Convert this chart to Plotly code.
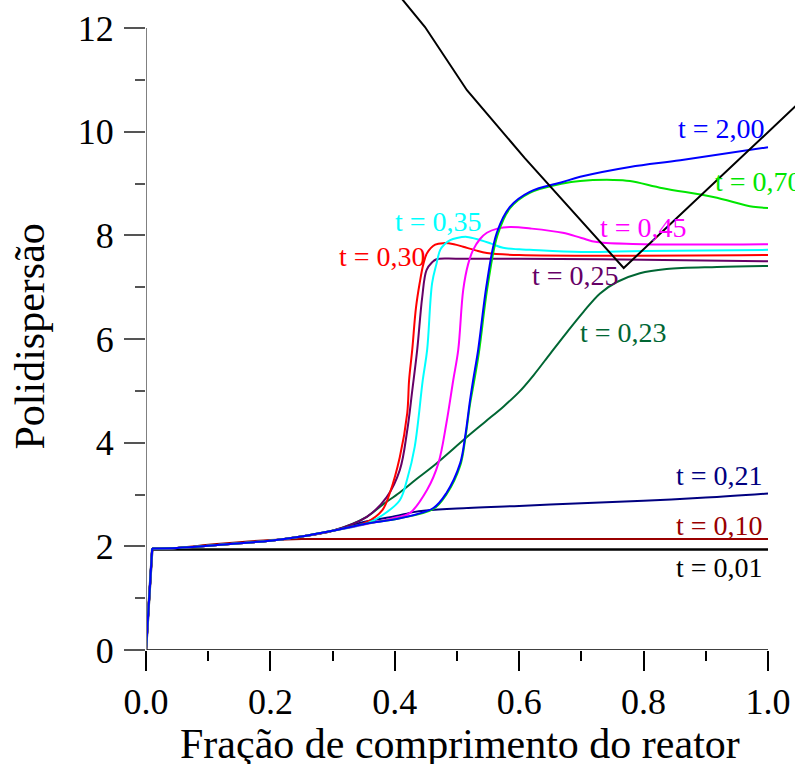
import plotly.graph_objects as go

# ---- data ----
x_t001 = [0, 0.01, 1.0]
y_t001 = [0, 1.94, 1.94]

x_t010 = [0, 0.01, 0.05, 0.1, 0.15, 0.2, 0.25, 0.3, 1.0]
y_t010 = [0, 1.95, 1.97, 2.03, 2.08, 2.12, 2.14, 2.14, 2.14]

x_t021 = [0, 0.01, 0.05, 0.1, 0.15, 0.2, 0.25, 0.3, 0.35, 0.4, 0.43, 0.45, 0.5, 0.6, 0.7, 0.8, 0.9, 1.0]
y_t021 = [0, 1.96, 1.97, 2.01, 2.06, 2.11, 2.19, 2.3, 2.47, 2.58, 2.66, 2.69, 2.73, 2.78, 2.83, 2.88, 2.94, 3.02]

x_t023 = [0, 0.01, 0.05, 0.1, 0.15, 0.2, 0.25, 0.3, 0.355, 0.38, 0.408, 0.435, 0.462, 0.515, 0.545, 0.575,
          0.6, 0.623, 0.65, 0.676, 0.703, 0.73, 0.757, 0.794, 0.837, 0.918, 1.0]
y_t023 = [0, 1.96, 1.97, 2.01, 2.06, 2.11, 2.19, 2.3, 2.57, 2.8, 3.04, 3.3, 3.55, 4.1, 4.4, 4.7,
          4.98, 5.3, 5.72, 6.12, 6.52, 6.88, 7.1, 7.27, 7.35, 7.39, 7.41]

x_t025 = [0, 0.01, 0.05, 0.1, 0.15, 0.2, 0.25, 0.3, 0.355, 0.387, 0.408, 0.42, 0.428, 0.436, 0.444, 0.451, 0.46,
          0.467, 0.5, 0.6, 0.8, 1.0]
y_t025 = [0, 1.96, 1.97, 2.01, 2.06, 2.11, 2.19, 2.3, 2.57, 2.95, 3.47, 4.24, 5.0, 5.79, 6.8, 7.33, 7.48,
          7.54, 7.55, 7.55, 7.53, 7.50]

x_t030 = [0, 0.01, 0.05, 0.1, 0.15, 0.2, 0.25, 0.3, 0.355, 0.38, 0.392, 0.408, 0.42, 0.423, 0.428, 0.434, 0.44,
          0.446, 0.452, 0.465, 0.478, 0.495, 0.51, 0.53, 0.548, 0.6, 1.0]
y_t030 = [0, 1.96, 1.97, 2.01, 2.06, 2.11, 2.19, 2.3, 2.47, 2.7, 3.03, 3.72, 4.57, 5.21, 5.79, 6.6, 7.08,
          7.45, 7.66, 7.82, 7.85, 7.83, 7.78, 7.71, 7.66, 7.62, 7.62]

x_t035 = [0, 0.01, 0.05, 0.1, 0.15, 0.2, 0.25, 0.3, 0.355, 0.38, 0.408, 0.42, 0.432, 0.445, 0.452, 0.46,
          0.467, 0.473, 0.48, 0.489, 0.5, 0.516, 0.537, 0.555, 0.574, 0.6, 0.617, 0.7, 0.8, 1.0]
y_t035 = [0, 1.96, 1.97, 2.01, 2.06, 2.11, 2.19, 2.3, 2.44, 2.6, 2.89, 3.3, 3.92, 5.21, 5.79, 7.08,
          7.45, 7.72, 7.83, 7.91, 7.95, 7.97, 7.91, 7.84, 7.76, 7.73, 7.72, 7.68, 7.70, 7.72]

x_t045 = [0, 0.01, 0.05, 0.1, 0.15, 0.2, 0.25, 0.3, 0.355, 0.4, 0.424, 0.452, 0.47, 0.483, 0.494, 0.502,
          0.51, 0.518, 0.526, 0.537, 0.548, 0.565, 0.585, 0.62, 0.67, 0.7, 0.725, 0.8, 1.0]
y_t045 = [0, 1.96, 1.97, 2.01, 2.06, 2.11, 2.19, 2.3, 2.43, 2.55, 2.64, 3.09, 3.6, 4.38, 5.21, 5.79,
          6.95, 7.45, 7.72, 7.93, 8.05, 8.13, 8.16, 8.13, 8.05, 7.95, 7.87, 7.83, 7.83]

x_t070 = [0, 0.01, 0.05, 0.1, 0.15, 0.2, 0.25, 0.3, 0.355, 0.408, 0.462, 0.483, 0.505, 0.513, 0.521, 0.527,
          0.535, 0.549, 0.565, 0.585, 0.617, 0.67, 0.698, 0.751, 0.778, 0.831, 0.912, 0.976, 1.0]
y_t070 = [0, 1.96, 1.97, 2.01, 2.06, 2.11, 2.19, 2.3, 2.44, 2.54, 2.72, 3.0, 3.55, 4.05, 4.75, 5.15,
          5.72, 7.0, 8.0, 8.52, 8.82, 9.0, 9.05, 9.07, 9.05, 8.91, 8.74, 8.55, 8.53]

x_t200 = [0, 0.01, 0.05, 0.1, 0.15, 0.2, 0.25, 0.3, 0.355, 0.408, 0.462, 0.483, 0.505, 0.513, 0.521, 0.526,
          0.534, 0.548, 0.564, 0.585, 0.617, 0.67, 0.698, 0.778, 0.859, 1.0]
y_t200 = [0, 1.96, 1.97, 2.01, 2.06, 2.11, 2.19, 2.3, 2.44, 2.54, 2.74, 3.03, 3.6, 4.11, 4.82, 5.21,
          5.79, 7.08, 8.05, 8.55, 8.84, 9.03, 9.13, 9.32, 9.45, 9.7]

x_vline = [0.38, 0.413, 0.4486, 0.516, 0.609, 0.768, 1.06]
y_vline = [13.02, 12.54, 12.02, 10.80, 9.49, 7.37, 10.67]

series_names = ["t = 0,01", "t = 0,10", "t = 0,21", "t = 0,23", "t = 0,25", "t = 0,30",
                "t = 0,35", "t = 0,45", "t = 0,70", "t = 2,00"]
series_x = [x_t001, x_t010, x_t021, x_t023, x_t025, x_t030, x_t035, x_t045, x_t070, x_t200]
series_y = [y_t001, y_t010, y_t021, y_t023, y_t025, y_t030, y_t035, y_t045, y_t070, y_t200]
series_colors = ["#000000", "#990000", "#000080", "#006633", "#660066", "#ff0000",
                 "#00ffff", "#ff00ff", "#00e600", "#0000ff"]
series_widths = [2.5, 2, 2, 2, 2, 2, 2, 2, 2, 2]

# label positions (x, y, anchor) for each series label
label_x = [0.995, 0.995, 0.995, 0.695, 0.617, 0.307, 0.397, 0.727, 0.912, 0.998]
label_y = [1.60, 2.41, 3.36, 6.12, 7.22, 7.60, 8.26, 8.16, 9.03, 10.07]
label_anchor = ["right", "right", "right", "left", "left", "left", "left", "left", "left", "right"]

x_tickvals = [0, 0.2, 0.4, 0.6, 0.8, 1.0]
x_ticktext = ["0.0", "0.2", "0.4", "0.6", "0.8", "1.0"]
y_tickvals = [0, 2, 4, 6, 8, 10, 12]

FONT = "Liberation Serif"

fig = go.Figure()
for nm, xs, ys, col, w in zip(series_names, series_x, series_y, series_colors, series_widths):
    # initial jump at the reactor inlet (straight)
    fig.add_trace(go.Scatter(x=xs[:2], y=ys[:2], mode="lines", name=nm, showlegend=False,
                             line=dict(color=col, width=w)))
    # smooth profile along the reactor
    fig.add_trace(go.Scatter(x=xs[1:], y=ys[1:], mode="lines", name=nm,
                             line=dict(color=col, width=w, shape="spline", smoothing=1.0)))
fig.add_trace(go.Scatter(x=x_vline, y=y_vline, mode="lines", name="linha",
                         line=dict(color="#000000", width=2)))

for nm, lx, ly, an, col in zip(series_names, label_x, label_y, label_anchor, series_colors):
    fig.add_annotation(x=lx, y=ly, xref="x", yref="y", text=nm, showarrow=False,
                       xanchor=an, yanchor="middle",
                       font=dict(family=FONT, size=28, color=col))

# axis titles
fig.add_annotation(x=0.505, y=-0.144, xref="x", yref="paper",
                   text="Fração de comprimento do reator", showarrow=False,
                   xanchor="center", yanchor="middle",
                   font=dict(family=FONT, size=42, color="#000000"))
fig.add_annotation(x=-0.178, y=0.483, xref="paper", yref="paper",
                   text="Polidispersão", showarrow=False, textangle=-90,
                   xanchor="center", yanchor="middle",
                   font=dict(family=FONT, size=42, color="#000000"))

# axis lines (ending at the last tick)
fig.add_shape(type="line", x0=0, x1=1.0, y0=0, y1=0, xref="x", yref="y",
              line=dict(color="#000000", width=1.5), layer="above")
fig.add_shape(type="line", x0=0, x1=0, y0=0, y1=12, xref="x", yref="y",
              line=dict(color="#808080", width=2), layer="above")

fig.update_layout(
    width=795, height=764,
    margin=dict(l=146, r=0, t=0, b=114),
    paper_bgcolor="white", plot_bgcolor="white",
    showlegend=False,
    xaxis=dict(range=[0, 649 / 622], tickvals=x_tickvals, ticktext=x_ticktext,
               ticks="outside", ticklen=20, tickwidth=1.5, tickcolor="#000000",
               showgrid=False, zeroline=False, showline=False,
               tickfont=dict(family=FONT, size=36, color="#000000"),
               ticklabelstandoff=0,
               minor=dict(tickvals=[0.1, 0.3, 0.5, 0.7, 0.9], ticks="outside",
                          ticklen=10, tickwidth=1.5, tickcolor="#000000", showgrid=False)),
    yaxis=dict(range=[0, 650 / 51.83], tickvals=y_tickvals,
               ticks="outside", ticklen=21, tickwidth=1.5, tickcolor="#555555",
               showgrid=False, zeroline=False, showline=False,
               tickfont=dict(family=FONT, size=36, color="#000000"),
               ticklabelstandoff=3,
               minor=dict(tickvals=[1, 3, 5, 7, 9, 11], ticks="outside",
                          ticklen=10, tickwidth=1.5, tickcolor="#555555", showgrid=False)),
)

fig.write_html("out.html")
